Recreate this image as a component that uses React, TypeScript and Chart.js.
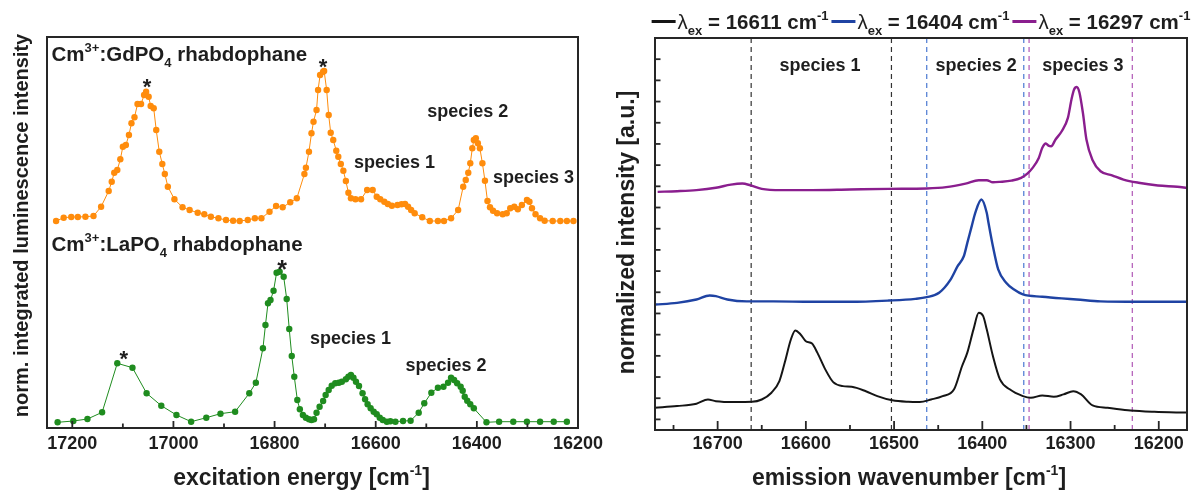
import React, { useEffect, useRef } from 'react';
import { Chart, registerables } from 'chart.js';

Chart.register(...registerables);

const FONT = '"Liberation Sans", Arial, Helvetica, sans-serif';
const INK = '#1e1e1e';

// ---------- left panel: excitation spectra ----------
const gdEnergy = [
  17232, 17217, 17202, 17189, 17174, 17158, 17143, 17128, 17122, 17117,
  17111, 17105, 17100, 17094, 17088, 17083, 17077, 17071, 17064, 17058,
  17054, 17049, 17045, 17039, 17034, 17028, 17022, 17017, 17011, 16998,
  16982, 16968, 16952, 16939, 16926, 16911, 16896, 16882, 16869, 16853,
  16839, 16826, 16810, 16797, 16784, 16769, 16756, 16741, 16738, 16732,
  16727, 16723, 16717, 16714, 16710, 16704, 16702, 16697, 16693, 16689,
  16684, 16678, 16674, 16669, 16664, 16659, 16654, 16649, 16640, 16629,
  16617, 16606, 16598, 16591, 16583, 16576, 16568, 16557, 16549, 16542,
  16536, 16530, 16523, 16508, 16493, 16477, 16465, 16451, 16437, 16427,
  16422, 16417, 16413, 16409, 16406, 16402, 16398, 16394, 16389, 16384,
  16379, 16374, 16368, 16360, 16349, 16341, 16334, 16326, 16319, 16311,
  16301, 16296, 16291, 16284, 16275, 16266, 16250, 16235, 16222, 16209,
];
const gdIntensity = [
  2.07, 2.103, 2.11, 2.11, 2.113, 2.12, 2.213, 2.37, 2.463, 2.553,
  2.58, 2.687, 2.813, 2.83, 2.93, 3.047, 3.107, 3.24, 3.24, 3.33,
  3.363, 3.313, 3.22, 3.197, 2.98, 2.763, 2.64, 2.54, 2.413, 2.287,
  2.207, 2.18, 2.153, 2.137, 2.113, 2.097, 2.08, 2.073, 2.07, 2.08,
  2.097, 2.097, 2.163, 2.22, 2.207, 2.257, 2.297, 2.54, 2.603, 2.763,
  2.947, 3.063, 3.18, 3.38, 3.53, 3.563, 3.57, 3.38, 3.13, 2.953,
  2.88, 2.773, 2.713, 2.64, 2.573, 2.47, 2.353, 2.297, 2.287, 2.287,
  2.38, 2.38, 2.313, 2.287, 2.263, 2.24, 2.223, 2.23, 2.237, 2.24,
  2.213, 2.18, 2.147, 2.107, 2.07, 2.07, 2.07, 2.097, 2.18, 2.413,
  2.48, 2.553, 2.647, 2.797, 2.88, 2.897, 2.847, 2.797, 2.647, 2.473,
  2.27, 2.207, 2.173, 2.147, 2.137, 2.147, 2.197, 2.213, 2.187, 2.23,
  2.28, 2.263, 2.197, 2.137, 2.097, 2.073, 2.07, 2.07, 2.07, 2.07,
];
const laEnergy = [
  17229, 17198, 17170, 17141, 17111, 17081, 17053, 17024, 16994, 16965,
  16935, 16907, 16878, 16850, 16837, 16823, 16818, 16813, 16808, 16802,
  16796, 16790, 16782, 16776, 16771, 16766, 16761, 16755, 16750, 16744,
  16738, 16732, 16727, 16722, 16717, 16711, 16704, 16699, 16693, 16687,
  16680, 16673, 16667, 16659, 16654, 16649, 16644, 16639, 16633, 16626,
  16621, 16616, 16610, 16604, 16598, 16592, 16586, 16578, 16571, 16561,
  16546, 16531, 16515, 16504, 16490, 16477, 16466, 16457, 16451, 16445,
  16439, 16432, 16428, 16424, 16419, 16413, 16406, 16381, 16356, 16328,
  16301, 16275, 16248, 16222,
];
const laIntensity = [
  0.057, 0.07, 0.09, 0.157, 0.647, 0.603, 0.347, 0.223, 0.13, 0.063,
  0.103, 0.143, 0.163, 0.347, 0.453, 0.797, 1.03, 1.247, 1.28, 1.373,
  1.553, 1.563, 1.513, 1.29, 0.99, 0.72, 0.513, 0.28, 0.187, 0.13,
  0.103, 0.087, 0.08, 0.087, 0.153, 0.213, 0.27, 0.33, 0.38, 0.423,
  0.447, 0.453, 0.463, 0.487, 0.513, 0.53, 0.503, 0.463, 0.42, 0.347,
  0.287, 0.237, 0.197, 0.163, 0.137, 0.103, 0.08, 0.063, 0.067, 0.063,
  0.07, 0.073, 0.153, 0.247, 0.353, 0.403, 0.413, 0.453, 0.503, 0.48,
  0.447, 0.413, 0.373, 0.313, 0.273, 0.237, 0.197, 0.057, 0.063, 0.063,
  0.063, 0.063, 0.063, 0.063,
];
const excitationTickLabels = [17200, 17000, 16800, 16600, 16400, 16200];

// ---------- right panel: emission spectra ----------
const emis16611Wn = [
  16771, 16746, 16724, 16711, 16702, 16680, 16661, 16650, 16639, 16630,
  16624, 16617, 16612, 16606, 16600, 16593, 16587, 16578, 16569, 16558,
  16548, 16532, 16519, 16502, 16484, 16471, 16458, 16445, 16432, 16423,
  16417, 16410, 16404, 16399, 16395, 16388, 16380, 16369, 16354, 16345,
  16332, 16319, 16308, 16297, 16288, 16275, 16258, 16232, 16205, 16168,
];
const emis16611I = [
  0.55, 0.63, 0.74, 0.94, 0.86, 0.82, 0.83, 0.94, 1.26, 1.81,
  2.67, 3.77, 4.2, 4.01, 3.69, 3.58, 3.15, 2.36, 1.76, 1.57,
  1.54, 1.33, 1.1, 0.9, 0.83, 0.82, 0.94, 1.1, 1.42, 2.51,
  3.15, 4.25, 5.03, 4.87, 4.25, 2.99, 1.89, 1.42, 1.1, 1.02,
  1.13, 1.07, 1.18, 1.33, 1.18, 0.66, 0.55, 0.42, 0.36, 0.32,
];
const emis16404Wn = [
  16771, 16746, 16724, 16709, 16702, 16689, 16667, 16637, 16593, 16550,
  16506, 16476, 16463, 16449, 16436, 16428, 16421, 16417, 16412, 16408,
  16401, 16395, 16393, 16388, 16382, 16373, 16364, 16354, 16332, 16310,
  16293, 16266, 16223, 16168,
];
const emis16404I = [
  5.42, 5.5, 5.66, 5.85, 5.82, 5.66, 5.57, 5.57, 5.55, 5.55,
  5.61, 5.69, 5.77, 5.98, 6.6, 7.23, 7.7, 8.33, 9.12, 9.75,
  10.38, 9.75, 9.28, 8.17, 7.08, 6.45, 6.13, 5.9, 5.79, 5.71,
  5.66, 5.57, 5.55, 5.55,
];
const emis16297Wn = [
  16768, 16746, 16724, 16702, 16685, 16672, 16663, 16650, 16628, 16593,
  16550, 16506, 16463, 16441, 16419, 16404, 16395, 16388, 16380, 16367,
  16356, 16349, 16343, 16336, 16332, 16328, 16325, 16322, 16317, 16310,
  16303, 16299, 16296, 16293, 16290, 16286, 16282, 16275, 16266, 16253,
  16240, 16223, 16201, 16179, 16168,
];
const emis16297I = [
  10.74, 10.77, 10.82, 10.93, 11.08, 11.13, 11.05, 10.88, 10.82, 10.82,
  10.85, 10.88, 10.9, 10.96, 11.13, 11.29, 11.29, 11.19, 11.21, 11.27,
  11.4, 11.6, 11.87, 12.34, 12.82, 13.02, 12.92, 12.89, 13.21, 13.6,
  14.23, 15.09, 15.57, 15.69, 15.44, 14.47, 13.21, 12.23, 11.71, 11.52,
  11.32, 11.17, 11.04, 10.98, 10.93,
];
const excitationWavenumbers = [16611, 16404, 16297];
const species1Bounds = [16662, 16503];
const species2Bounds = [16463, 16353];
const species3Bounds = [16347, 16230];
const emissionTickLabels = [16700, 16600, 16500, 16400, 16300, 16200];

// ---------- colours ----------
const ORANGE = '#ff8c0c';
const GREEN = '#1f8c1f';
const BLACK = '#151515';
const BLUE = '#1f43a3';
const PURPLE = '#8a1e8e';

type Part = { t: string; s?: 'sup' | 'sub'; w?: string };

function fontOf(p: Part, size: number) {
  const sz = p.s ? Math.round(size * 0.62) : size;
  return `${p.w ?? 'bold'} ${sz}px ${FONT}`;
}
function measureRich(ctx: CanvasRenderingContext2D, parts: Part[], size: number) {
  let w = 0;
  for (const p of parts) { ctx.font = fontOf(p, size); w += ctx.measureText(p.t).width; }
  return w;
}
function drawRich(ctx: CanvasRenderingContext2D, parts: Part[], x: number, y: number, size: number, align = 'left', color = INK) {
  const total = measureRich(ctx, parts, size);
  let cx = align === 'center' ? x - total / 2 : align === 'right' ? x - total : x;
  ctx.fillStyle = color;
  ctx.textAlign = 'left';
  ctx.textBaseline = 'alphabetic';
  for (const p of parts) {
    ctx.font = fontOf(p, size);
    const dy = p.s === 'sup' ? -size * 0.42 : p.s === 'sub' ? size * 0.3 : 0;
    ctx.fillText(p.t, cx, y + dy);
    cx += ctx.measureText(p.t).width;
  }
  return total;
}

const toPts = (xs: number[], ys: number[]) => xs.map((x, i) => ({ x, y: ys[i] }));
const vline = (x: number, y0: number, y1: number) => [{ x, y: y0 }, { x, y: y1 }];

type TickSpec = { minor: number; major: number; minorLen: number; majorLen: number };

function drawFrameAndTicks(chart: any, xs: TickSpec | null, ys: TickSpec | null) {
  const { ctx, chartArea: a, scales } = chart;
  ctx.save();
  ctx.strokeStyle = '#262626';
  ctx.lineWidth = 1.8;
  if (xs) {
    for (const t of scales.x.ticks) {
      const v = Math.round(t.value);
      if (v % xs.minor !== 0) continue;
      const px = scales.x.getPixelForValue(v);
      if (px < a.left + 2 || px > a.right - 2) continue;
      const len = v % xs.major === 0 ? xs.majorLen : xs.minorLen;
      ctx.beginPath(); ctx.moveTo(px, a.bottom); ctx.lineTo(px, a.bottom - len); ctx.stroke();
    }
  }
  if (ys) {
    for (const t of scales.y.ticks) {
      const v = t.value;
      if (Math.abs(v / ys.minor - Math.round(v / ys.minor)) > 1e-6) continue;
      const py = scales.y.getPixelForValue(v);
      if (py < a.top + 2 || py > a.bottom - 2) continue;
      ctx.beginPath(); ctx.moveTo(a.left, py); ctx.lineTo(a.left + ys.minorLen, py); ctx.stroke();
    }
  }
  ctx.lineWidth = 2;
  ctx.strokeRect(a.left, a.top, a.right - a.left, a.bottom - a.top);
  ctx.restore();
}

function drawRotated(ctx: CanvasRenderingContext2D, parts: Part[], x: number, y: number, size: number) {
  ctx.save();
  ctx.translate(x, y);
  ctx.rotate(-Math.PI / 2);
  drawRich(ctx, parts, 0, 0, size, 'center');
  ctx.restore();
}

const cm: Part[] = [{ t: 'cm' }, { t: '-1', s: 'sup' }];

const leftNotes: { x: number; y: number; size: number; align: string; parts: Part[] }[] = [
  { x: 17241, y: 3.67, size: 20.5, align: 'left', parts: [{ t: 'Cm' }, { t: '3+', s: 'sup' }, { t: ':GdPO' }, { t: '4', s: 'sub' }, { t: ' rhabdophane' }] },
  { x: 17241, y: 1.77, size: 20.5, align: 'left', parts: [{ t: 'Cm' }, { t: '3+', s: 'sup' }, { t: ':LaPO' }, { t: '4', s: 'sub' }, { t: ' rhabdophane' }] },
  { x: 17052, y: 3.34, size: 22, align: 'center', parts: [{ t: '*' }] },
  { x: 16704, y: 3.54, size: 22, align: 'center', parts: [{ t: '*' }] },
  { x: 16785, y: 1.5, size: 25, align: 'center', parts: [{ t: '*' }] },
  { x: 17098, y: 0.625, size: 22, align: 'center', parts: [{ t: '*' }] },
  { x: 16563, y: 2.6, size: 18, align: 'center', parts: [{ t: 'species 1' }] },
  { x: 16418, y: 3.11, size: 18, align: 'center', parts: [{ t: 'species 2' }] },
  { x: 16288, y: 2.45, size: 18, align: 'center', parts: [{ t: 'species 3' }] },
  { x: 16650, y: 0.84, size: 18, align: 'center', parts: [{ t: 'species 1' }] },
  { x: 16461, y: 0.573, size: 18, align: 'center', parts: [{ t: 'species 2' }] },
];

const rightNotes = [
  { x: 16584, y: 16.43, text: 'species 1' },
  { x: 16407, y: 16.43, text: 'species 2' },
  { x: 16286, y: 16.43, text: 'species 3' },
];

const tickFont = { family: FONT, size: 18, weight: 'bold' as const, lineHeight: 1 };

function leftConfig(): any {
  const series = (label: string, xs: number[], ys: number[], color: string) => ({
    label, data: toPts(xs, ys), borderColor: color, backgroundColor: color,
    borderWidth: 1, pointRadius: 3.2, pointBorderWidth: 0, pointBackgroundColor: color, tension: 0, fill: false,
  });
  return {
    type: 'line',
    data: {
      datasets: [
        series('Cm3+:GdPO4 rhabdophane', gdEnergy, gdIntensity, ORANGE),
        series('Cm3+:LaPO4 rhabdophane', laEnergy, laIntensity, GREEN),
      ],
    },
    options: {
      responsive: false, animation: false, devicePixelRatio: 1, events: [],
      layout: { padding: { left: 47, top: 37, right: 625, bottom: 34 } },
      plugins: { legend: { display: false }, tooltip: { enabled: false } },
      scales: {
        x: {
          type: 'linear', min: 16200, max: 17250, reverse: true,
          grid: { display: false, drawTicks: false }, border: { display: false },
          ticks: {
            stepSize: 100, includeBounds: false, autoSkip: false, maxRotation: 0, padding: 7.5, color: INK, font: tickFont,
            callback: (v: number) => (excitationTickLabels.includes(Math.round(v)) ? String(Math.round(v)) : ''),
          },
        },
        y: {
          type: 'linear', min: 0, max: 3.91,
          grid: { display: false, drawTicks: false }, border: { display: false }, ticks: { display: false },
        },
      },
    },
    plugins: [{
      id: 'leftDecor',
      afterDraw(chart: any) {
        const { ctx, chartArea: a, scales } = chart;
        drawFrameAndTicks(chart, { minor: 100, major: 200, minorLen: 4.5, majorLen: 7 }, null);
        ctx.save();
        for (const n of leftNotes) {
          drawRich(ctx, n.parts, scales.x.getPixelForValue(n.x), scales.y.getPixelForValue(n.y), n.size, n.align);
        }
        drawRich(ctx, [{ t: 'excitation energy [' }, ...cm, { t: ']' }], (a.left + a.right) / 2 - 11, a.bottom + 57, 23, 'center');
        drawRotated(ctx, [{ t: 'norm. integrated luminescence intensity' }], a.left - 19.2, (a.top + a.bottom) / 2 - 7, 20);
        ctx.restore();
      },
    }],
  };
}

function rightConfig(): any {
  const spec = (label: string, xs: number[], ys: number[], color: string, width: number) => ({
    label, data: toPts(xs, ys), borderColor: color, borderWidth: width, pointRadius: 0,
    cubicInterpolationMode: 'monotone', fill: false,
  });
  const dash = (x: number, color: string) => ({
    label: 'bound', data: vline(x, -0.5, 18), borderColor: color, borderWidth: 1.2, borderDash: [5, 4], pointRadius: 0, fill: false,
  });
  const colors = [BLACK, BLUE, PURPLE];
  return {
    type: 'line',
    data: {
      datasets: [
        spec('λex = 16611 cm-1', emis16611Wn, emis16611I, BLACK, 2),
        spec('λex = 16404 cm-1', emis16404Wn, emis16404I, BLUE, 2.4),
        spec('λex = 16297 cm-1', emis16297Wn, emis16297I, PURPLE, 2.4),
        ...species1Bounds.map((b) => dash(b, '#333333')),
        ...species2Bounds.map((b) => dash(b, '#4a78d2')),
        ...species3Bounds.map((b) => dash(b, '#b158b6')),
      ],
    },
    options: {
      responsive: false, animation: false, devicePixelRatio: 1, events: [],
      layout: { padding: { left: 655, top: 38, right: 16, bottom: 36 } },
      plugins: { legend: { display: false }, tooltip: { enabled: false } },
      scales: {
        x: {
          type: 'linear', min: 16168, max: 16771, reverse: true,
          grid: { display: false, drawTicks: false }, border: { display: false },
          ticks: {
            stepSize: 50, includeBounds: false, autoSkip: false, maxRotation: 0, padding: 5.5, color: INK, font: tickFont,
            callback: (v: number) => (emissionTickLabels.includes(Math.round(v)) ? String(Math.round(v)) : ''),
          },
        },
        y: {
          type: 'linear', min: -0.5, max: 18,
          grid: { display: false, drawTicks: false }, border: { display: false },
          ticks: { display: false, stepSize: 1, includeBounds: false },
        },
      },
    },
    plugins: [{
      id: 'rightDecor',
      afterDraw(chart: any) {
        const { ctx, chartArea: a, scales } = chart;
        drawFrameAndTicks(chart, { minor: 50, major: 100, minorLen: 5, majorLen: 9 }, { minor: 1, major: 1, minorLen: 5.5, majorLen: 5.5 });
        ctx.save();
        for (const n of rightNotes) {
          drawRich(ctx, [{ t: n.text }], scales.x.getPixelForValue(n.x), scales.y.getPixelForValue(n.y), 18, 'center');
        }
        drawRich(ctx, [{ t: 'emission wavenumber [' }, ...cm, { t: ']' }], (a.left + a.right) / 2 - 12, a.bottom + 55, 23, 'center');
        drawRotated(ctx, [{ t: 'normalized intensity [a.u.]' }], a.left - 21, (a.top + a.bottom) / 2 - 1.5, 23);
        // legend
        const size = 20.5;
        const items = excitationWavenumbers.map((v, i) => ({
          color: colors[i],
          parts: [{ t: 'λ', w: 'normal' }, { t: 'ex', s: 'sub' }, { t: ` = ${v} ` }, ...cm] as Part[],
        }));
        const lineLen = 24, gapLine = 2, gapItem = 3;
        const widths = items.map((it) => measureRich(ctx, it.parts, size));
        const total = widths.reduce((s, w) => s + w + lineLen + gapLine, 0) + gapItem * (items.length - 1);
        let x = (a.left + a.right) / 2 - total / 2;
        items.forEach((it, i) => {
          ctx.strokeStyle = it.color;
          ctx.lineWidth = 3;
          ctx.beginPath(); ctx.moveTo(x, 21.5); ctx.lineTo(x + lineLen, 21.5); ctx.stroke();
          x += lineLen + gapLine;
          drawRich(ctx, it.parts, x, 28.5, size, 'left');
          x += widths[i] + gapItem;
        });
        ctx.restore();
      },
    }],
  };
}

export default function App() {
  const leftRef = useRef<HTMLCanvasElement>(null);
  const rightRef = useRef<HTMLCanvasElement>(null);
  useEffect(() => {
    document.body.style.margin = '0';
    const left = new Chart(leftRef.current as HTMLCanvasElement, leftConfig());
    const right = new Chart(rightRef.current as HTMLCanvasElement, rightConfig());
    return () => { left.destroy(); right.destroy(); };
  }, []);
  return (
    <div style={{ position: 'relative', width: 1203, height: 495, background: '#ffffff' }}>
      <canvas ref={leftRef} width={1203} height={495} style={{ position: 'absolute', left: 0, top: 0 }} />
      <canvas ref={rightRef} width={1203} height={495} style={{ position: 'absolute', left: 0, top: 0 }} />
    </div>
  );
}
